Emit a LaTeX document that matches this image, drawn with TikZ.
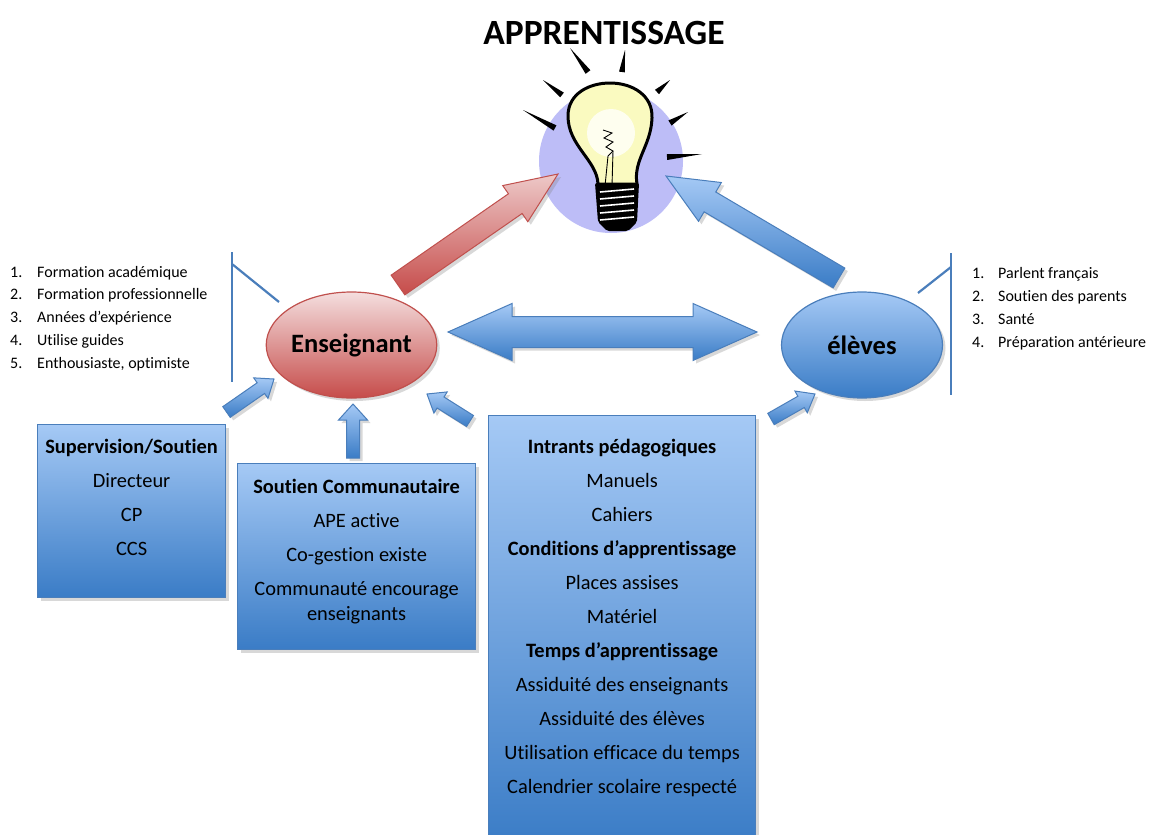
\documentclass[tikz,border=0pt]{standalone}
\usepackage{fontspec}
\setmainfont{Carlito}[Ligatures=NoCommon]
\usetikzlibrary{shapes.geometric,calc,shadows,positioning}

\definecolor{bluetop}{RGB}{165,201,245}
\definecolor{bluebot}{RGB}{58,124,198}
\definecolor{blueline}{RGB}{74,126,187}
\definecolor{redtop}{RGB}{244,222,222}
\definecolor{redbot}{RGB}{198,76,74}
\definecolor{redline}{RGB}{192,80,77}
\definecolor{bulbglow}{RGB}{189,189,247}
\definecolor{glass}{RGB}{250,250,192}

% block arrow: [style]{from}{to}{half shaft}{half head}{head length}
\newcommand{\blockarrow}[6][]{%
  \coordinate (bah) at ($(#3)!#6!(#2)$);
  \path[#1] ($(#2)!#4!90:(#3)$) -- ($(bah)!#4!90:(#3)$) -- ($(bah)!#5!90:(#3)$) -- (#3)
    -- ($(bah)!#5!-90:(#3)$) -- ($(bah)!#4!-90:(#3)$) -- ($(#2)!#4!-90:(#3)$) -- cycle;
}
\newcommand{\doublearrow}[6][]{%
  \coordinate (bah) at ($(#3)!#6!(#2)$);
  \coordinate (bat) at ($(#2)!#6!(#3)$);
  \path[#1] (#2) -- ($(bat)!#5!90:(#3)$) -- ($(bat)!#4!90:(#3)$) -- ($(bah)!#4!90:(#3)$)
    -- ($(bah)!#5!90:(#3)$) -- (#3) -- ($(bah)!#5!-90:(#3)$) -- ($(bah)!#4!-90:(#3)$)
    -- ($(bat)!#4!-90:(#3)$) -- ($(bat)!#5!-90:(#3)$) -- cycle;
}

\begin{document}
\begin{tikzpicture}[x=1pt, y=-1pt,
  ombre/.style={drop shadow={opacity=0.3, shadow xshift=3pt, shadow yshift=-3pt}},
  boite/.style={draw=blueline, line width=1.2pt, top color=bluetop, bottom color=bluebot, inner sep=0pt, ombre},
  cercle/.style={ellipse, line width=1.2pt, minimum width=161pt, minimum height=106pt, inner sep=0pt, ombre,
    font=\bfseries\fontsize{26.5}{30}\selectfont},
  flechebleue/.style={draw=blueline, line width=1pt, top color=bluetop, bottom color=bluebot, ombre},
  flecherouge/.style={draw=redline, line width=1pt, top color=redtop!85!redbot, bottom color=redbot, ombre},
  crochet/.style={draw=blueline, line width=2.2pt},
  item/.style={anchor=base west, inner sep=0pt, font=\fontsize{16}{19}\selectfont}]
\path[use as bounding box, fill=white] (0,0) rectangle (1151,835);

% lampe
\node[font=\bfseries\fontsize{35.5}{40}\selectfont, anchor=base] (titre) at (604,44) {APPRENTISSAGE};
\fill[bulbglow] (611,161) circle (72pt);
\foreach \ox/\oy/\ix/\iy in {570/48/588/72, 625/50/622/72, 543/80/562/95, 670/80/657/92,
    523/110/555/128, 688/112/670/123, 702/154/667/157}
  \fill[black] (\ox,\oy) -- ($(\ix,\iy)!3pt!90:(\ox,\oy)$) -- ($(\ix,\iy)!3pt!-90:(\ox,\oy)$) -- cycle;
\draw[line width=3pt, fill=glass] (598,184) .. controls (597,160) and (568,146) .. (568,116)
  .. controls (568,93) and (590,83) .. (610,83) .. controls (632,83) and (653,95) .. (652,118)
  .. controls (651,146) and (633,160) .. (637,184) -- cycle;
\fill[white!75!glass] (611,133) circle (24pt);
\draw[line width=0.9pt] (603,130) -- (612,133) -- (604,138) -- (613,142) -- (606,147) -- (613,151) -- (608,156) -- (605,186);
\draw[line width=0.9pt] (613,151) -- (612,186);
\fill[black, rounded corners=2pt] (595,183) -- (639,183) -- (637,222) -- (628,231) -- (607,231) -- (598,222) -- cycle;
\foreach \y in {190,197,204,211,218}
  \draw[white, line width=1.6pt] (600,\y+2) -- (634,\y-1);

% acteurs
\node[cercle, draw=redline, top color=redtop, bottom color=redbot] (ens) at (351.5,345) {Enseignant};
\node[cercle, draw=blueline, top color=bluetop, bottom color=bluebot] (elv) at (862,345) {élèves};

% grandes fleches
\coordinate (rq) at (398,285); \coordinate (rt) at (558,174);
\coordinate (bq) at (839,278); \coordinate (bt) at (666,176);
\coordinate (dg) at (448,332); \coordinate (dd) at (757,332);
\blockarrow[flecherouge]{rq}{rt}{12pt}{22pt}{52pt}
\blockarrow[flechebleue]{bq}{bt}{11.5pt}{22.5pt}{51pt}
\doublearrow[flechebleue]{dg}{dd}{15.5pt}{28.5pt}{64pt}

% listes
\draw[crochet] (232,252) -- (232,382);
\draw[crochet] (232,264) -- (279,302);
\draw[crochet] (951,253) -- (951,395);
\draw[crochet] (951,267) -- (918,293);
\foreach \t [count=\i] in {Formation académique, Formation professionnelle, Années d’expérience,
    Utilise guides, {Enthousiaste, optimiste}}
  \node[item] (ensq\i) at (10,{277+22.75*(\i-1)}) {\makebox[27pt][l]{\i.}\t};
\foreach \t [count=\i] in {Parlent français, Soutien des parents, Santé, Préparation antérieure}
  \node[item] (elvq\i) at (972,{278+23.2*(\i-1)}) {\makebox[26pt][l]{\i.}\t};

% boites
\node[boite, anchor=north west] (sup) at (37,424) {\parbox[t][173pt][t]{188pt}{\centering
  \fontsize{20.4}{34}\selectfont\rule{0pt}{29pt}\textbf{Supervision/Soutien}\\Directeur\\CP\\CCS}};
\node[boite, anchor=north west] (com) at (237,463) {\parbox[t][186pt][t]{238pt}{\centering
  \fontsize{20.4}{34}\selectfont\rule{0pt}{30pt}\textbf{Soutien Communautaire}\\APE active\\Co-gestion existe\\
  Communauté encourage\\[-9pt]enseignants}};
\node[boite, anchor=north west] (int) at (488,415) {\parbox[t][430pt][t]{267pt}{\centering
  \fontsize{20.4}{34}\selectfont\rule{0pt}{38pt}\textbf{Intrants pédagogiques}\\Manuels\\Cahiers\\
  \textbf{Conditions d’apprentissage}\\Places assises\\Matériel\\\textbf{Temps d’apprentissage}\\
  Assiduité des enseignants\\Assiduité des élèves\\Utilisation efficace du temps\\Calendrier scolaire respecté}};

% petites fleches
\coordinate (aq) at (226.5,412); \coordinate (at) at (274,379);
\coordinate (cq) at (353,458); \coordinate (ct) at (353,404);
\coordinate (iq) at (470,421); \coordinate (it) at (427,394);
\coordinate (eq) at (771,419); \coordinate (et) at (815,394);
\blockarrow[flechebleue]{aq}{at}{6.5pt}{12.5pt}{16pt}
\blockarrow[flechebleue]{cq}{ct}{6.5pt}{14.5pt}{16pt}
\blockarrow[flechebleue]{iq}{it}{6.5pt}{12.5pt}{16pt}
\blockarrow[flechebleue]{eq}{et}{6.5pt}{12.5pt}{16pt}
\end{tikzpicture}
\end{document}
